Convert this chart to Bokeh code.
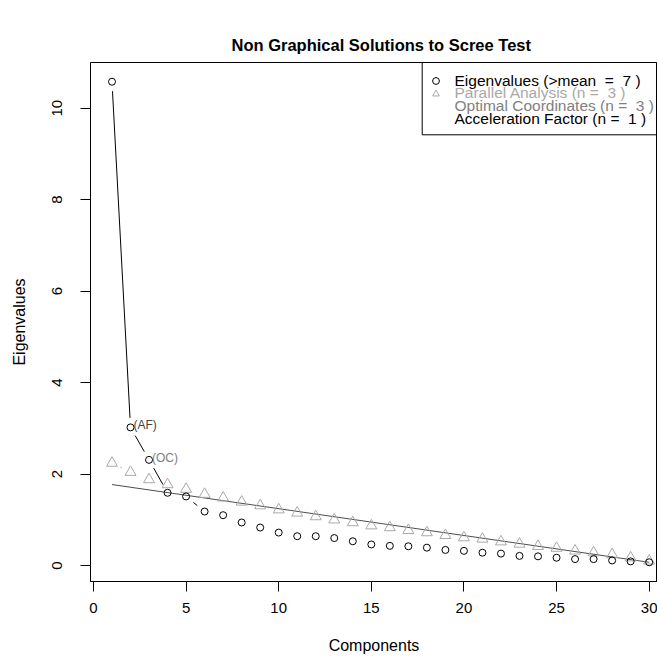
import math
from bokeh.plotting import figure
from bokeh.models import FixedTicker, Legend, LegendItem, BoxAnnotation
from bokeh.core.properties import value
from bokeh.embed import file_html
from bokeh.resources import INLINE

# ---------------- data ----------------
components = list(range(1, 31))
eigenvalues = [10.58, 3.02, 2.31, 1.59, 1.51, 1.18, 1.10, 0.94, 0.83, 0.72,
               0.64, 0.64, 0.60, 0.53, 0.46, 0.43, 0.42, 0.39, 0.34, 0.32,
               0.28, 0.26, 0.21, 0.20, 0.17, 0.14, 0.14, 0.11, 0.09, 0.07]
parallel = [2.24, 2.04, 1.88, 1.77, 1.67, 1.56, 1.48, 1.39, 1.31, 1.22,
            1.15, 1.07, 1.00, 0.94, 0.87, 0.83, 0.77, 0.72, 0.66, 0.61,
            0.58, 0.52, 0.47, 0.42, 0.38, 0.32, 0.28, 0.24, 0.17, 0.10]
oc_line_x = [1, 30]
oc_line_y = [1.77, 0.07]
marker_labels = ["(AF)", "(OC)"]
marker_components = [2, 3]
legend_labels = ["Eigenvalues (>mean  =  7 )", "Parallel Analysis (n =  3 )",
                 "Optimal Coordinates (n =  3 )", "Acceleration Factor (n =  1 )"]
x_ticks = [0, 5, 10, 15, 20, 25, 30]
y_ticks = [0, 2, 4, 6, 8, 10]

# ---------------- layout ----------------
FONT = "Liberation Sans"
W, H = 657, 661
BL, BR, BT, BB = 90, 0, 62, 80
X_START, X_END = -0.16, 30.45
Y_START, Y_END = -0.35, 11.0
frame_w = W - BL - BR
frame_h = H - BT - BB
sx = frame_w / (X_END - X_START)
sy = frame_h / (Y_END - Y_START)

PA_COL = "#a9a9a9"
OC_COL = "#808080"

p = figure(width=W, height=H, x_range=(X_START, X_END), y_range=(Y_START, Y_END),
           output_backend="svg", toolbar_location=None,
           min_border_left=BL, min_border_right=BR, min_border_top=BT, min_border_bottom=BB)
p.grid.visible = False
p.outline_line_color = "black"
p.outline_line_width = 1
p.background_fill_color = "white"
p.border_fill_color = "white"

p.title.text = "Non Graphical Solutions to Scree Test"
p.title.text_font = FONT
p.title.text_font_size = "16.5px"
p.title.text_font_style = "bold"
p.title.text_color = "black"
p.title.align = "left"
p.title.offset = 141
p.title.standoff = 18

for ax in (p.xaxis[0], p.yaxis[0]):
    ax.major_tick_out = 10
    ax.major_tick_in = 0
    ax.minor_tick_line_color = None
    ax.axis_line_color = "black"
    ax.major_tick_line_color = "black"
    ax.major_label_text_font = FONT
    ax.major_label_text_font_size = "15px"
    ax.major_label_text_color = "black"
    ax.axis_label_text_font = FONT
    ax.axis_label_text_font_size = "16px"
    ax.axis_label_text_font_style = "normal"
    ax.axis_label_text_color = "black"

p.xaxis.major_label_standoff = 11
p.xaxis.axis_label_standoff = 21
p.yaxis.major_label_standoff = 18
p.yaxis.axis_label_standoff = 22

p.xaxis.ticker = FixedTicker(ticks=x_ticks)
p.yaxis.ticker = FixedTicker(ticks=y_ticks)
p.xaxis.axis_label = "Components"
p.yaxis.axis_label = "Eigenvalues"
p.yaxis.major_label_orientation = "vertical"


def gapped(xs, ys, gap_px, min_len=1.5):
    x0, y0, x1, y1 = [], [], [], []
    for i in range(len(xs) - 1):
        dx = (xs[i + 1] - xs[i]) * sx
        dy = (ys[i + 1] - ys[i]) * sy
        d = math.hypot(dx, dy)
        if d - 2 * gap_px > min_len:
            f = gap_px / d
            x0.append(xs[i] + (xs[i + 1] - xs[i]) * f)
            y0.append(ys[i] + (ys[i + 1] - ys[i]) * f)
            x1.append(xs[i + 1] - (xs[i + 1] - xs[i]) * f)
            y1.append(ys[i + 1] - (ys[i + 1] - ys[i]) * f)
    return x0, y0, x1, y1


GAP = 9.5
# optimal coordinates line
p.line(oc_line_x, oc_line_y, line_color="#4d4d4d", line_width=1)

# parallel analysis (type = "b")
px0, py0, px1, py1 = gapped(components, parallel, GAP)
p.segment(px0, py0, px1, py1, line_color=PA_COL, line_width=1)
r_pa = p.scatter(components, parallel, marker="triangle", size=11,
                 line_color=PA_COL, fill_color=None, line_width=1)

# eigenvalues (type = "b")
ex0, ey0, ex1, ey1 = gapped(components, eigenvalues, GAP)
p.segment(ex0, ey0, ex1, ey1, line_color="black", line_width=1)
r_eig = p.scatter(components, eigenvalues, marker="circle", size=7,
                  line_color="black", fill_color=None, line_width=1)

# (AF) / (OC) labels
p.text(x=marker_components, y=[eigenvalues[c - 1] for c in marker_components],
       text=marker_labels, x_offset=3, y_offset=-2,
       text_font=value(FONT), text_font_size="12px", text_baseline="middle",
       text_align="left", text_color=["#444444", OC_COL])

# invisible renderer for legend rows without symbol
r_none = p.scatter([], [], size=0, line_alpha=0, fill_alpha=0)

# legend frame (top and right edges follow the plot frame)
leg_left_px = 421.7 - 90
leg_bottom_px = 134.3 - 62
p.add_layout(BoxAnnotation(left=X_START + leg_left_px / sx,
                           bottom=Y_END - leg_bottom_px / sy,
                           fill_alpha=0, line_color="black", line_width=1,
                           line_alpha=1))

row_centers = [80.5 - 62 + 12.8 * i for i in range(4)]
row_colors = ["black", PA_COL, OC_COL, "black"]
row_rends = [r_eig, r_pa, r_none, r_none]
for lab, col, rend, c in zip(legend_labels, row_colors, row_rends, row_centers):
    lg = Legend(items=[LegendItem(label=lab, renderers=[rend])],
                location=(336.5, frame_h - c - 10),
                border_line_color=None, background_fill_alpha=0,
                padding=0, spacing=0, margin=0,
                glyph_width=17, glyph_height=17, label_height=20,
                label_standoff=11, label_text_font=FONT,
                label_text_font_size="15.5px", label_text_color=col,
                label_text_baseline="middle")
    p.add_layout(lg)

open("out.html", "w").write(file_html(p, INLINE))
